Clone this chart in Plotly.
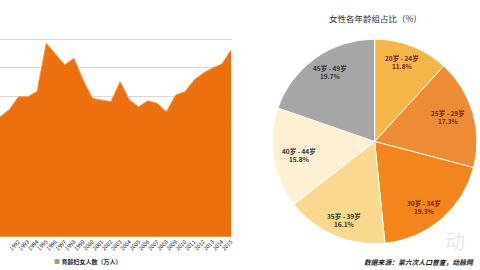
import math
import plotly.graph_objects as go

# ---- left chart data ----
years = [str(y) for y in range(1990, 2016)]
women = [26550, 27070, 27970, 27970, 28340, 31720, 30970, 30200, 30670, 29140,
         27860, 27740, 27620, 29030, 27740, 27270, 27690, 27510, 26920, 28090,
         28320, 29140, 29640, 29990, 30270, 31250]
area_name = "育龄妇女人数（万人）"

# ---- right chart data ----
age_groups = ["20岁 - 24岁", "25岁 - 29岁", "30岁 - 34岁", "35岁 - 39岁", "40岁 - 44岁", "45岁 - 49岁"]
shares = [11.8, 17.3, 19.3, 16.1, 15.8, 19.7]
slice_colors = ["#F5B547", "#EE8B35", "#F2861C", "#FAD98F", "#FDF0D3", "#A6A6A6"]
label_colors = ["#7A2410", "#7A2410", "#7A2410", "#333333", "#333333", "#333333"]
pie_title = "女性各年龄组占比（%）"
source = "数据来源：第六次人口普查，动脉网"

W, H = 480, 270
FONT = "Noto Sans CJK SC"

fig = go.Figure()
idx = list(range(len(years)))
fig.add_trace(go.Scatter(
    x=idx, y=women, mode="lines", fill="tozeroy",
    line=dict(color="#F39A4A", width=1), fillcolor="#EC710E",
    showlegend=False, xaxis="x", yaxis="y"))

# pie geometry
px0, px1 = 274, 480
py0, py1 = 37, 246
fig.add_trace(go.Pie(
    labels=age_groups, values=shares, sort=False, direction="clockwise",
    rotation=0, marker=dict(colors=slice_colors, line=dict(color="#FFFFFF", width=1)),
    textinfo="none", hoverinfo="label+percent", showlegend=False,
    domain=dict(x=[px0 / W, px1 / W], y=[1 - py1 / H, 1 - py0 / H])))

# slice labels near the outer edge, computed from the shares
R = min(px1 - px0, py1 - py0) / 2
cx = (px0 + px1) / 2
cy = (py0 + py1) / 2
total = sum(shares)
cum = 0
annotations = []
for name, v, col in zip(age_groups, shares, label_colors):
    mid = (cum + v / 2) / total * 2 * math.pi
    cum += v
    r = 0.83 * R
    lx = cx + 0.9 * r * math.sin(mid)
    ly = cy - r * math.cos(mid)
    annotations.append(dict(
        x=lx / W, y=1 - ly / H, xref="paper", yref="paper", showarrow=False,
        text=f"<b>{name}<br>{v:.1f}%</b>", font=dict(size=6.5, color=col, family=FONT),
        xanchor="center", yanchor="middle", align="center"))

annotations.append(dict(x=378 / W, y=1 - 18 / H, xref="paper", yref="paper", showarrow=False,
                        text=pie_title, font=dict(size=8.5, color="#333333", family=FONT),
                        xanchor="center", yanchor="middle"))
# faint watermark
annotations.append(dict(x=458 / W, y=1 - 240 / H, xref="paper", yref="paper", showarrow=False,
                        text="动", font=dict(size=20, color="rgba(170,170,170,0.3)", family=FONT),
                        xanchor="center", yanchor="middle"))
annotations.append(dict(x=364 / W, y=1 - 262 / H, xref="paper", yref="paper", showarrow=False,
                        text=f"<i><b>{source}</b></i>", font=dict(size=6.8, color="#222222", family=FONT),
                        xanchor="left", yanchor="middle"))
annotations.append(dict(x=52 / W, y=1 - 261 / H, xref="paper", yref="paper", showarrow=False,
                        text="<span style='color:#9A9A9A'>■</span> <b>" + area_name + "</b>",
                        font=dict(size=6, color="#222222", family=FONT),
                        xanchor="left", yanchor="middle"))

fig.update_layout(
    width=W, height=H, margin=dict(l=0, r=0, t=0, b=0),
    paper_bgcolor="white", plot_bgcolor="white",
    xaxis=dict(domain=[0, 233 / W], range=[0, 25.05], tickmode="array", tickvals=idx,
               ticktext=years, tickangle=-45, tickfont=dict(size=5.5, color="#222222", family=FONT),
               showgrid=False, zeroline=False, showline=False, ticks=""),
    yaxis=dict(domain=[1 - 236.7 / H, 1 - 37.2 / H], range=[18147, 32150], dtick=2000, tick0=0,
               showticklabels=False, gridcolor="#D9D9D9", gridwidth=1, zeroline=False, showline=False),
    annotations=annotations,
)

fig.write_html("out.html")
